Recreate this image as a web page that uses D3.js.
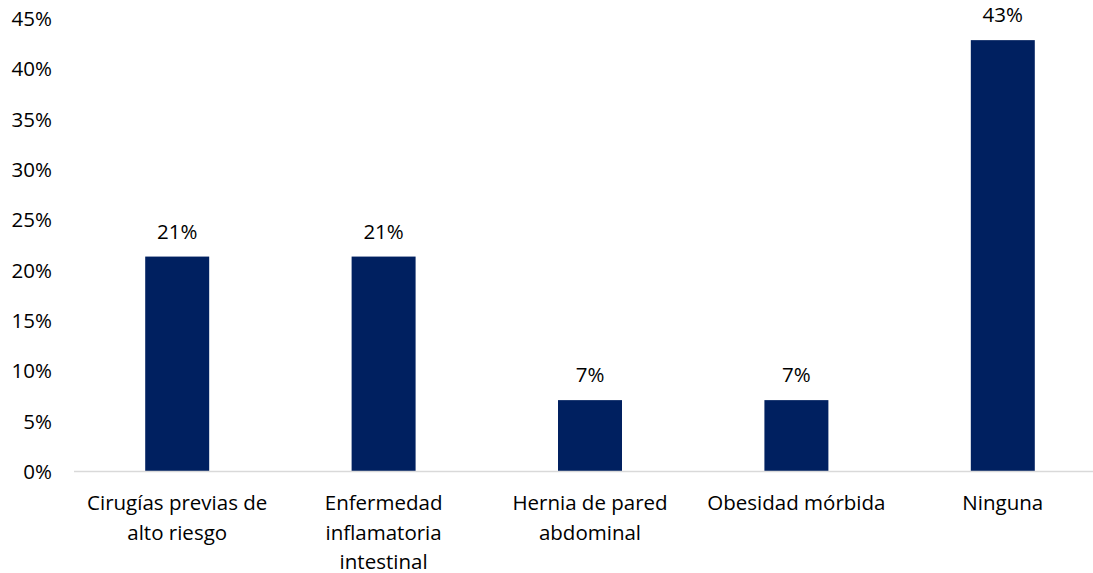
<!DOCTYPE html>
<html><head><meta charset="utf-8">
<script src="https://cdn.jsdelivr.net/npm/d3@7"></script>
<style>body{margin:0;background:#fff;} text{font-family:"Open Sans",sans-serif;fill:#000;}</style>
</head><body>
<svg id="c" width="1093" height="573"></svg>
<script>
const categories = [["Cirugías previas de","alto riesgo"],["Enfermedad","inflamatoria","intestinal"],["Hernia de pared","abdominal"],["Obesidad mórbida"],["Ninguna"]];
const values = [0.214, 0.214, 0.0714, 0.0714, 0.429];
const valueLabels = ["21%","21%","7%","7%","43%"];
const yTicks = [0,0.05,0.10,0.15,0.20,0.25,0.30,0.35,0.40,0.45];

const svg = d3.select("#c");
const keys = categories.map((c,i)=>i);
const x = d3.scaleBand().domain(keys).range([74,1106]).paddingInner(0.69).paddingOuter(0.345);
const y = d3.scaleLinear().domain([0,0.45]).range([472,19]);
const fs = 20.5;
const ff = "'Open Sans', sans-serif";

// y axis labels
const ya = svg.append("g").attr("transform","translate(52,0)")
  .call(d3.axisLeft(y).tickValues(yTicks).tickFormat(d=>Math.round(d*100)+"%").tickSize(0).tickPadding(0));
ya.select(".domain").remove();
ya.selectAll("text").style("font-size",fs+"px").style("font-family",ff).attr("fill","#000");

// bars
svg.append("g").selectAll("rect").data(values).join("rect")
  .attr("x",(d,i)=>x(i)).attr("width",x.bandwidth())
  .attr("y",d=>y(d)).attr("height",d=>y(0)-y(d))
  .attr("fill","#002060");

// baseline
svg.append("line").attr("x1",74).attr("x2",1093).attr("y1",y(0)-0.5).attr("y2",y(0)-0.5)
  .attr("stroke","#d9d9d9").attr("stroke-width",1.5);

// value labels
svg.append("g").selectAll("text").data(values).join("text")
  .attr("x",(d,i)=>x(i)+x.bandwidth()/2).attr("y",d=>y(d)-18)
  .attr("text-anchor","middle").style("font-size",fs+"px").text((d,i)=>valueLabels[i]);

// category labels
const cg = svg.append("g");
categories.forEach((lines,i)=>{
  const t = cg.append("text").attr("text-anchor","middle").style("font-size",fs+"px")
    .attr("x",x(i)+x.bandwidth()/2).attr("y",510);
  lines.forEach((l,j)=>t.append("tspan").attr("x",x(i)+x.bandwidth()/2).attr("dy",j?29.5:0).text(l));
});
</script>
</body></html>
